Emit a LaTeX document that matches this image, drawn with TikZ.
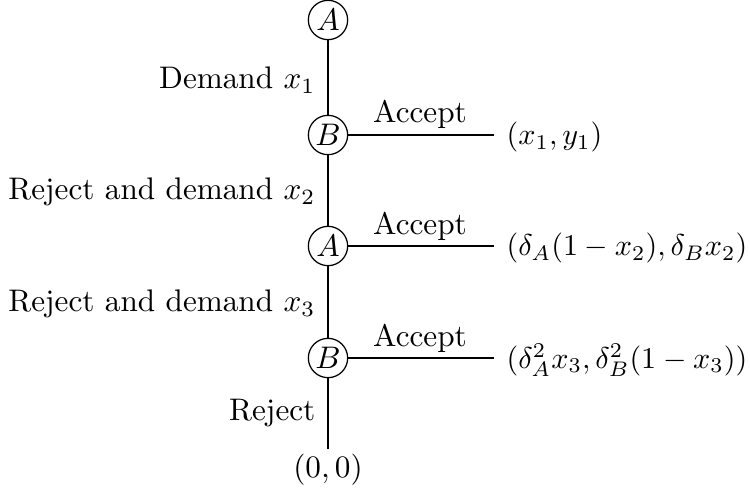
\documentclass[tikz,border=0pt]{standalone}
\begin{document}
\begin{tikzpicture}[x=0.3205pt,y=-0.3205pt,
  player/.style={draw,circle,inner sep=0pt,minimum size=12.6pt},
  pay/.style={anchor=west,inner sep=0pt},
  lab/.style={inner sep=0pt}]
\useasboundingbox (0,0) rectangle (750,497);
\node[player] (a1) at (328,20) {$A$};
\node[player] (b1) at (328,135) {$B$};
\node[player] (a2) at (328,246) {$A$};
\node[player] (b2) at (328,358) {$B$};
\coordinate (end) at (328,449);
\node[lab] (z) at (328,470) {$(0,0)$};
\coordinate (e1) at (494,135);
\coordinate (e2) at (494,246);
\coordinate (e3) at (494,358);
\node[pay] (p1) at (506,137) {\scalebox{0.965}{$(x_1,y_1)$}};
\node[pay] (p2) at (506,248) {\scalebox{0.965}{$(\delta_A(1-x_2),\delta_Bx_2)$}};
\node[pay] (p3) at (506,360) {\scalebox{0.965}{$(\delta_A^2x_3,\delta_B^2(1-x_3))$}};
\draw (a1) -- (b1) -- (a2) -- (b2) -- (end);
\draw (b1) -- (e1);
\draw (a2) -- (e2);
\draw (b2) -- (e3);
\node[lab,anchor=east] (l1) at (316,80) {Demand $x_1$};
\node[lab,anchor=east] (l2) at (316,192) {Reject and demand $x_2$};
\node[lab,anchor=east] (l3) at (316,304) {Reject and demand $x_3$};
\node[lab,anchor=east] (l4) at (316,413) {Reject};
\node[lab] (c1) at (420,114) {Accept};
\node[lab] (c2) at (420,226) {Accept};
\node[lab] (c3) at (420,338) {Accept};
\end{tikzpicture}
\end{document}
